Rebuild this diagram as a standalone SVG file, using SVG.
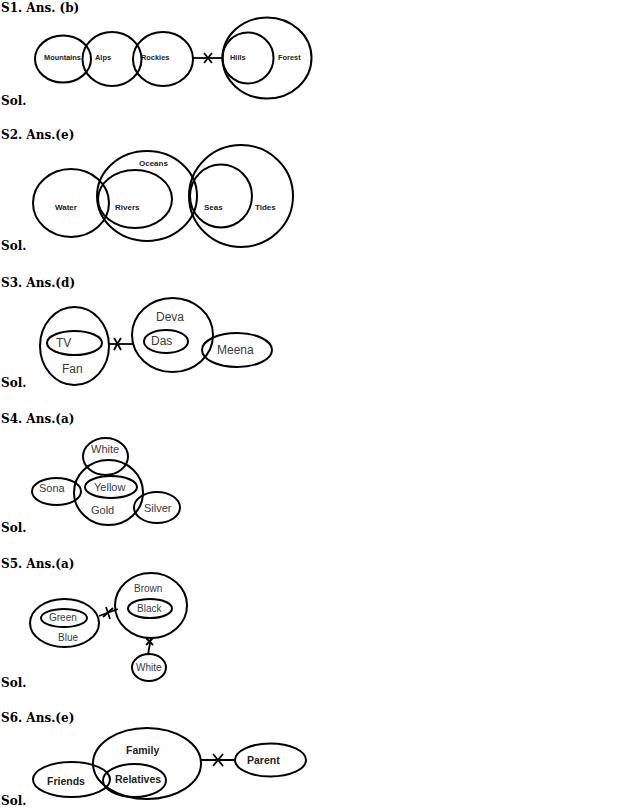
<svg xmlns="http://www.w3.org/2000/svg" width="636" height="808" viewBox="0 0 636 808">
<style>
.h{font-family:"DejaVu Serif",serif;font-weight:bold;font-size:12px;fill:#000}
.c{fill:none;stroke:#000;stroke-width:2}
.l{fill:none;stroke:#000;stroke-width:1.8}
.b{font-family:"Liberation Sans",Arial,sans-serif;font-weight:bold;fill:#222}
.r{font-family:"Liberation Sans",Arial,sans-serif;fill:#3a3a3a}
</style>
<rect width="636" height="808" fill="#fff"/>
<g id="labels">
<text class="h" x="1" y="12">S1. Ans. (b)</text>
<text class="h" x="1" y="105">Sol.</text>
<text class="h" x="1" y="139">S2. Ans.(e)</text>
<text class="h" x="1" y="250">Sol.</text>
<text class="h" x="1" y="287">S3. Ans.(d)</text>
<text class="h" x="1" y="387">Sol.</text>
<text class="h" x="1" y="423">S4. Ans.(a)</text>
<text class="h" x="1" y="532">Sol.</text>
<text class="h" x="1" y="568">S5. Ans.(a)</text>
<text class="h" x="1" y="687">Sol.</text>
<text class="h" x="1" y="722">S6. Ans.(e)</text>
<text class="h" x="1" y="805">Sol.</text>
</g>
<g id="connectors">
<line class="l" x1="193" y1="58" x2="223" y2="58"/>
<line class="l" x1="204" y1="53" x2="212" y2="63"/>
<line class="l" x1="212" y1="53" x2="204" y2="63"/>
<line class="l" x1="109" y1="344" x2="133" y2="344"/>
<path class="l" d="M114 338 Q118 344 121 350 M121 338 Q117 344 114 350"/>
<line class="l" x1="99" y1="616" x2="118" y2="609"/>
<line class="l" x1="106" y1="607" x2="110" y2="619"/>
<line class="l" x1="103" y1="617" x2="113" y2="608"/>
<line class="l" x1="151" y1="637" x2="148" y2="655"/>
<line class="l" x1="146" y1="638" x2="153" y2="645"/>
<line class="l" x1="153" y1="638" x2="146" y2="645"/>
<line class="l" x1="201" y1="760" x2="235" y2="760"/>
<line class="l" x1="213" y1="754" x2="223" y2="766"/>
<line class="l" x1="223" y1="754" x2="213" y2="766"/>
</g>
<g id="s1">
<g id="mountains"><ellipse class="c" cx="63" cy="59" rx="28" ry="23.5"/><text class="b" x="44" y="60" font-size="7.4">Mountains</text></g>
<g id="alps"><ellipse class="c" cx="112" cy="59" rx="29.5" ry="27"/><text class="b" x="95" y="60" font-size="7.4">Alps</text></g>
<g id="rockies"><ellipse class="c" cx="163" cy="59" rx="30" ry="27"/><text class="b" x="141" y="60" font-size="7.4">Rockies</text></g>
<g id="hills"><ellipse class="c" cx="248" cy="58" rx="25.5" ry="25.5"/><text class="b" x="230" y="60" font-size="7.4">Hills</text></g>
<g id="forest"><ellipse class="c" cx="267" cy="58" rx="44.5" ry="40.5"/><text class="b" x="278" y="60" font-size="7.4">Forest</text></g>
</g>
<g id="s2">
<g id="water"><ellipse class="c" cx="71" cy="203" rx="38" ry="34"/><text class="b" x="55" y="210" font-size="8">Water</text></g>
<g id="oceans"><ellipse class="c" cx="147" cy="196" rx="50" ry="45"/><text class="b" x="139" y="166" font-size="8">Oceans</text></g>
<g id="rivers"><ellipse class="c" cx="135" cy="199" rx="37" ry="29"/><text class="b" x="115" y="210" font-size="8">Rivers</text></g>
<g id="tides"><ellipse class="c" cx="241" cy="196" rx="52" ry="51"/><text class="b" x="255" y="210" font-size="8">Tides</text></g>
<g id="seas"><ellipse class="c" cx="221" cy="196" rx="31" ry="31.5"/><text class="b" x="204" y="210" font-size="8">Seas</text></g>
</g>
<g id="s3">
<g id="fan"><ellipse class="c" cx="74.5" cy="346" rx="34.5" ry="39"/><text class="r" x="62" y="373" font-size="12">Fan</text></g>
<g id="tv"><ellipse class="c" cx="74.5" cy="343" rx="27.5" ry="12"/><text class="r" x="56" y="347" font-size="12">TV</text></g>
<g id="deva"><ellipse class="c" cx="172.5" cy="335" rx="40.5" ry="37"/><text class="r" x="156" y="321" font-size="12">Deva</text></g>
<g id="das"><ellipse class="c" cx="166" cy="341.5" rx="22" ry="11.5"/><text class="r" x="151" y="345" font-size="12">Das</text></g>
<g id="meena"><ellipse class="c" cx="237" cy="350" rx="35" ry="17"/><text class="r" x="217" y="354" font-size="12">Meena</text></g>
</g>
<g id="s4">
<g id="white4"><ellipse class="c" cx="105.5" cy="456.5" rx="22.5" ry="18.5"/><text class="r" x="91" y="453" font-size="11">White</text></g>
<g id="gold"><ellipse class="c" cx="108.5" cy="492.5" rx="34.5" ry="32.5"/><text class="r" x="91" y="514" font-size="11">Gold</text></g>
<g id="yellow"><ellipse class="c" cx="111" cy="487" rx="26" ry="11"/><text class="r" x="94" y="491" font-size="11">Yellow</text></g>
<g id="sona"><ellipse class="c" cx="56.5" cy="491.5" rx="24.5" ry="13.5"/><text class="r" x="39" y="492" font-size="11">Sona</text></g>
<g id="silver"><ellipse class="c" cx="157" cy="507.5" rx="23" ry="15.5"/><text class="r" x="144" y="512" font-size="11">Silver</text></g>
</g>
<g id="s5">
<g id="blue"><ellipse class="c" cx="64.5" cy="623" rx="34.5" ry="24"/><text class="r" x="58" y="641" font-size="10">Blue</text></g>
<g id="green"><ellipse class="c" cx="64" cy="618" rx="23" ry="9"/><text class="r" x="49" y="621" font-size="10">Green</text></g>
<g id="brown"><ellipse class="c" cx="151" cy="605.5" rx="36" ry="32.5"/><text class="r" x="134" y="592" font-size="10">Brown</text></g>
<g id="black"><ellipse class="c" cx="150" cy="608.5" rx="22" ry="9.5"/><text class="r" x="137" y="612" font-size="10">Black</text></g>
<g id="white5"><ellipse class="c" cx="149" cy="667.5" rx="17" ry="13.5"/><text class="r" x="136" y="671" font-size="10">White</text></g>
</g>
<g id="s6">
<g id="family"><ellipse class="c" cx="147" cy="763.5" rx="54" ry="35.5"/><text class="b" x="126" y="754" font-size="10.5">Family</text></g>
<g id="relatives"><ellipse class="c" cx="134.5" cy="780.5" rx="31.5" ry="16.5"/><text class="b" x="115" y="783" font-size="10.5">Relatives</text></g>
<g id="friends"><ellipse class="c" cx="71.5" cy="779.5" rx="38.5" ry="17.5"/><text class="b" x="47" y="785" font-size="10.5">Friends</text></g>
<g id="parent"><ellipse class="c" cx="270.5" cy="760" rx="35.5" ry="16.5"/><text class="b" x="247" y="764" font-size="10.5">Parent</text></g>
</g>
</svg>
